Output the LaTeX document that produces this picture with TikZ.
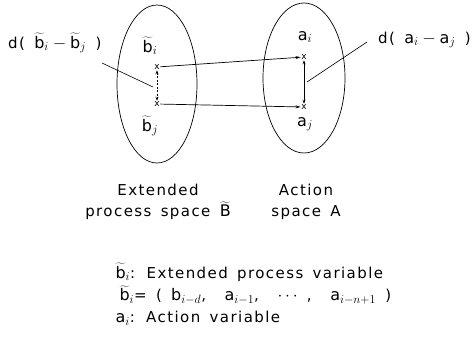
\documentclass[tikz,border=0pt]{standalone}
\usepackage{fontspec}
\setmainfont{DejaVu Sans}[LetterSpace=9.5, WordSpace=1.5]
\DeclareMathSizes{15}{16}{13}{10}
\usetikzlibrary{shapes.geometric, arrows.meta, positioning}

\begin{document}
\begin{tikzpicture}[
    x=1pt, y=-1pt,
    font=\fontsize{15}{21}\selectfont,
    spc/.style={ellipse, draw, line width=0.7pt, inner sep=0pt},
    xpt/.style={inner sep=0.6pt, font=\fontsize{9}{9}\selectfont},
    arr/.style={-{Stealth[length=5pt, width=3pt]}, line width=0.7pt},
    darr/.style={{Stealth[length=4pt, width=3pt]}-{Stealth[length=4pt, width=3pt]}, line width=0.7pt},
    lead/.style={line width=0.6pt}
]
\useasboundingbox (0,0) rectangle (473,360);

\node[spc, minimum width=80pt, minimum height=158pt] (Bsp) at (157,84) {};
\node[spc, minimum width=82pt, minimum height=150pt] (Asp) at (304,78) {};

\node[xpt] (bi) at (157,67) {x};
\node[xpt] (bj) at (157,104) {x};
\node[xpt] (ai) at (304,57) {x};
\node[xpt] (aj) at (304,107) {x};

\node (bilab) at (150,46) {$\widetilde{\mathrm{b}}_i$};
\node (bjlab) at (150,126) {$\widetilde{\mathrm{b}}_j$};
\node (ailab) at (305,37) {$\mathrm{a}_i$};
\node (ajlab) at (305,124) {$\mathrm{a}_j$};

\draw[arr] (bi) -- (ai);
\draw[arr] (bj) -- (aj);
\draw[darr, dash pattern=on 2pt off 1.5pt] (bi) -- (bj);
\draw[darr] (ai) -- (aj);

% distance labels
\node[anchor=west, inner sep=0pt] (dblab) at (8,43) {d( $\widetilde{\mathrm{b}}_i - \widetilde{\mathrm{b}}_j$ )};
\node[anchor=west, inner sep=0pt] (dalab) at (378,40) {d( $\mathrm{a}_i - \mathrm{a}_j$ )};
\coordinate (db0) at (102,63);
\coordinate (db1) at (153,87);
\coordinate (da0) at (367,42);
\coordinate (da1) at (307,82);
\draw[lead] (db0) -- (db1);
\draw[lead] (da0) -- (da1);

\node[align=center] (Blab) at (158,202) {Extended\\process space $\widetilde{\mathrm{B}}$};
\node[align=center] (Alab) at (306,202) {Action\\space A};

% legend
\node[anchor=west] (leg1) at (112,272) {$\widetilde{\mathrm{b}}_i$: Extended process variable};
\node[anchor=west] (leg2) at (116,295) {$\widetilde{\mathrm{b}}_i$= ( $\mathrm{b}_{i-d}$, \ $\mathrm{a}_{i-1}$, \ $\cdots$ , \ $\mathrm{a}_{i-n+1}$ )};
\node[anchor=west] (leg3) at (112,318) {$\mathrm{a}_i$: Action variable};
\end{tikzpicture}
\end{document}
